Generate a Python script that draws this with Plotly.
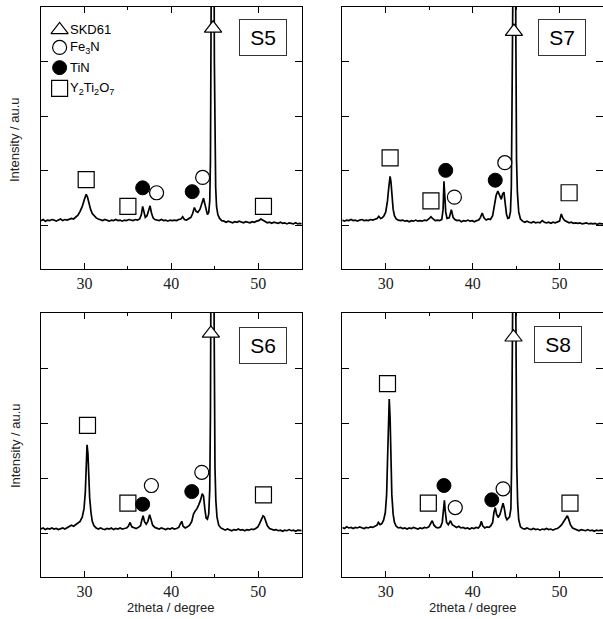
import plotly.graph_objects as go

# ---------------- data (2theta [deg], intensity [a.u.]) ----------------
S5 = [(25.0,.09),(25.25,.11),(25.5,.08),(25.75,.10),(26.0,.09),(26.25,.11),(26.5,.10),(26.75,.08),(27.0,.10),(27.25,.12),
      (27.5,.09),(27.75,.11),(28.0,.10),(28.25,.12),(28.5,.13),(28.75,.12),(29.0,.16),(29.25,.19),(29.5,.26),(29.75,.35),
      (30.0,.48),(30.2,.57),(30.35,.52),(30.5,.42),(30.7,.30),(30.9,.22),(31.1,.18),(31.35,.14),(31.6,.12),(31.85,.11),
      (32.1,.09),(32.35,.11),(32.6,.10),(32.85,.08),(33.1,.10),(33.35,.09),(33.6,.11),(33.85,.09),(34.1,.10),(34.35,.08),
      (34.6,.10),(34.85,.09),(35.1,.11),(35.35,.10),(35.6,.09),(35.85,.11),(36.1,.10),(36.35,.12),(36.55,.20),(36.7,.35),
      (36.85,.22),(37.0,.15),(37.2,.18),(37.4,.28),(37.55,.36),(37.7,.24),(37.9,.14),(38.1,.11),(38.35,.10),(38.6,.09),
      (38.85,.11),(39.1,.09),(39.35,.10),(39.6,.08),(39.85,.10),(40.1,.09),(40.35,.10),(40.6,.09),(40.85,.11),(41.1,.12),
      (41.3,.16),(41.5,.11),(41.75,.10),(42.0,.12),(42.25,.15),(42.45,.22),(42.65,.33),(42.85,.26),(43.05,.24),(43.3,.30),
      (43.5,.42),(43.7,.50),(43.85,.40),(44.0,.26),(44.15,.20),(44.3,.24),(44.42,.45),(44.5,1.2),(44.57,3.0),(44.62,5.5),
      (44.7,9.0),(44.82,9.0),(44.9,5.5),(44.95,3.0),(45.02,1.4),(45.1,.7),(45.2,.35),(45.35,.2),(45.55,.13),(45.8,.09),
      (46.05,.08),(46.3,.06),(46.55,.08),(46.8,.07),(47.05,.05),(47.3,.07),(47.55,.06),(47.8,.08),(48.05,.06),(48.3,.05),
      (48.55,.07),(48.8,.06),(49.05,.05),(49.3,.07),(49.55,.06),(49.8,.08),(50.05,.09),(50.3,.12),(50.55,.10),(50.8,.07),
      (51.05,.05),(51.3,.06),(51.55,.04),(51.8,.06),(52.05,.05),(52.3,.04),(52.55,.06),(52.8,.04),(53.05,.05),(53.3,.03),
      (53.55,.05),(53.8,.04),(54.05,.03),(54.3,.05),(54.55,.03),(54.8,.04),(55.0,.03)]

S7 = [(25.0,.10),(25.25,.08),(25.5,.10),(25.75,.09),(26.0,.11),(26.25,.09),(26.5,.10),(26.75,.08),(27.0,.10),(27.25,.11),
      (27.5,.09),(27.75,.10),(28.0,.09),(28.25,.11),(28.5,.10),(28.75,.12),(29.0,.13),(29.2,.17),(29.4,.13),(29.6,.14),
      (29.8,.18),(30.0,.25),(30.2,.45),(30.35,.70),(30.5,.90),(30.6,.80),(30.7,.55),(30.85,.30),(31.0,.18),(31.2,.12),
      (31.45,.10),(31.7,.09),(31.95,.10),(32.2,.08),(32.45,.09),(32.7,.07),(32.95,.09),(33.2,.08),(33.45,.10),(33.7,.08),
      (33.95,.09),(34.2,.08),(34.45,.10),(34.7,.09),(34.95,.12),(35.2,.16),(35.45,.12),(35.7,.09),(35.95,.10),(36.2,.09),
      (36.45,.11),(36.6,.30),(36.7,.81),(36.8,.60),(36.9,.25),(37.05,.13),(37.3,.14),(37.55,.29),(37.75,.15),(37.95,.11),
      (38.2,.09),(38.45,.10),(38.7,.07),(38.95,.09),(39.2,.08),(39.45,.10),(39.7,.08),(39.95,.09),(40.2,.07),(40.45,.09),
      (40.7,.10),(40.9,.15),(41.1,.23),(41.3,.14),(41.55,.10),(41.8,.12),(42.05,.11),(42.3,.18),(42.5,.35),(42.7,.55),
      (42.9,.63),(43.1,.55),(43.3,.48),(43.45,.58),(43.6,.61),(43.75,.40),(43.9,.20),(44.05,.13),(44.2,.14),(44.35,.25),
      (44.45,.7),(44.52,2.0),(44.6,5.0),(44.7,9.0),(44.85,9.0),(44.92,5.0),(44.98,2.5),(45.05,1.2),(45.15,.6),(45.3,.25),
      (45.5,.12),(45.75,.08),(46.0,.06),(46.25,.08),(46.5,.06),(46.75,.05),(47.0,.07),(47.25,.05),(47.5,.06),(47.75,.05),
      (48.0,.09),(48.25,.06),(48.5,.05),(48.75,.06),(49.0,.04),(49.25,.06),(49.5,.05),(49.75,.06),(50.0,.08),(50.2,.21),
      (50.4,.13),(50.6,.09),(50.85,.07),(51.1,.05),(51.35,.06),(51.6,.04),(51.85,.05),(52.1,.04),(52.35,.05),(52.6,.03),
      (52.85,.04),(53.1,.05),(53.35,.03),(53.6,.04),(53.85,.03),(54.1,.04),(54.35,.02),(54.6,.04),(54.85,.03),(55.0,.03)]

S6 = [(25.0,.08),(25.25,.10),(25.5,.07),(25.75,.09),(26.0,.08),(26.25,.10),(26.5,.08),(26.75,.09),(27.0,.07),(27.25,.09),
      (27.5,.10),(27.75,.08),(28.0,.10),(28.25,.12),(28.5,.15),(28.75,.13),(29.0,.16),(29.25,.18),(29.5,.22),(29.75,.30),
      (29.95,.45),(30.1,.75),(30.2,1.2),(30.3,1.61),(30.4,1.45),(30.5,1.0),(30.6,.65),(30.75,.38),(30.9,.22),(31.1,.14),
      (31.35,.10),(31.6,.08),(31.85,.10),(32.1,.08),(32.35,.07),(32.6,.09),(32.85,.08),(33.1,.10),(33.35,.07),(33.6,.09),
      (33.85,.08),(34.1,.10),(34.35,.08),(34.6,.09),(34.85,.10),(35.05,.13),(35.25,.20),(35.45,.12),(35.7,.10),(35.95,.09),
      (36.2,.11),(36.45,.14),(36.6,.24),(36.75,.32),(36.9,.22),(37.1,.17),(37.3,.22),(37.5,.34),(37.65,.26),(37.85,.15),
      (38.1,.11),(38.35,.10),(38.6,.08),(38.85,.10),(39.1,.09),(39.35,.07),(39.6,.09),(39.85,.08),(40.1,.10),(40.35,.08),
      (40.6,.09),(40.85,.11),(41.05,.18),(41.2,.22),(41.35,.13),(41.6,.10),(41.85,.12),(42.1,.15),(42.35,.22),(42.55,.35),
      (42.75,.41),(42.95,.45),(43.15,.52),(43.35,.60),(43.55,.72),(43.7,.68),(43.85,.45),(44.0,.28),(44.15,.26),(44.3,.35),
      (44.42,.8),(44.5,2.2),(44.56,5.0),(44.65,9.0),(44.8,9.0),(44.88,5.0),(44.94,2.5),(45.02,1.2),(45.12,.6),(45.25,.30),
      (45.45,.15),(45.7,.10),(45.95,.08),(46.2,.06),(46.45,.08),(46.7,.07),(46.95,.05),(47.2,.07),(47.45,.06),(47.7,.08),
      (47.95,.06),(48.2,.07),(48.45,.05),(48.7,.07),(48.95,.06),(49.2,.08),(49.45,.07),(49.7,.09),(49.95,.12),(50.15,.18),
      (50.35,.26),(50.55,.32),(50.7,.30),(50.85,.22),(51.05,.14),(51.3,.09),(51.55,.07),(51.8,.06),(52.05,.07),(52.3,.05),
      (52.55,.06),(52.8,.04),(53.05,.06),(53.3,.05),(53.55,.07),(53.8,.05),(54.05,.06),(54.3,.04),(54.55,.06),(54.8,.05),
      (55.0,.05)]

S8 = [(25.0,.11),(25.25,.09),(25.5,.12),(25.75,.10),(26.0,.11),(26.25,.09),(26.5,.11),(26.75,.10),(27.0,.12),(27.25,.10),
      (27.5,.09),(27.75,.11),(28.0,.10),(28.25,.12),(28.5,.11),(28.75,.13),(29.0,.15),(29.15,.20),(29.35,.16),(29.55,.18),
      (29.75,.24),(29.95,.38),(30.1,.70),(30.2,1.3),(30.3,2.0),(30.4,2.44),(30.5,2.1),(30.6,1.3),(30.7,.70),(30.85,.35),
      (31.0,.20),(31.2,.13),(31.45,.10),(31.7,.11),(31.95,.09),(32.2,.10),(32.45,.08),(32.7,.10),(32.95,.09),(33.2,.11),
      (33.45,.09),(33.7,.08),(33.95,.10),(34.2,.09),(34.45,.11),(34.7,.10),(34.95,.12),(35.15,.17),(35.35,.23),(35.55,.15),
      (35.8,.11),(36.05,.10),(36.3,.12),(36.5,.20),(36.65,.45),(36.75,.60),(36.85,.40),(37.0,.20),(37.2,.16),(37.45,.23),
      (37.65,.16),(37.9,.14),(38.15,.11),(38.4,.13),(38.65,.10),(38.9,.11),(39.15,.09),(39.4,.10),(39.65,.08),(39.9,.10),
      (40.15,.09),(40.4,.11),(40.65,.10),(40.85,.14),(41.0,.22),(41.15,.14),(41.4,.10),(41.65,.12),(41.9,.11),(42.1,.14),
      (42.3,.20),(42.45,.38),(42.6,.47),(42.75,.35),(42.95,.29),(43.15,.35),(43.35,.48),(43.5,.55),(43.65,.45),(43.8,.30),
      (43.95,.25),(44.1,.28),(44.25,.30),(44.4,.45),(44.48,1.2),(44.55,3.0),(44.62,6.0),(44.72,9.0),(44.85,9.0),(44.93,5.0),
      (45.0,2.5),(45.08,1.2),(45.18,.55),(45.3,.25),(45.5,.12),(45.75,.09),(46.0,.08),(46.25,.10),(46.5,.08),(46.75,.07),
      (47.0,.09),(47.25,.07),(47.5,.08),(47.75,.06),(48.0,.08),(48.25,.07),(48.5,.09),(48.75,.07),(49.0,.08),(49.25,.06),
      (49.5,.08),(49.75,.09),(50.0,.12),(50.25,.16),(50.5,.22),(50.7,.28),(50.9,.32),(51.05,.26),(51.25,.16),(51.5,.10),
      (51.75,.08),(52.0,.07),(52.25,.05),(52.5,.07),(52.75,.06),(53.0,.05),(53.25,.07),(53.5,.05),(53.75,.06),(54.0,.04),
      (54.25,.06),(54.5,.05),(54.75,.06),(55.0,.05)]

# phase markers (2theta, height) per sample
S5_Y2Ti2O7 = [(30.2, 0.84), (35.0, 0.35), (50.6, 0.35)]
S5_TiN = [(36.7, 0.69), (42.4, 0.62)]
S5_Fe3N = [(38.3, 0.60), (43.6, 0.88)]
S5_SKD61 = [(44.8, 3.61)]

S7_Y2Ti2O7 = [(30.5, 1.24), (35.2, 0.45), (51.1, 0.60)]
S7_TiN = [(36.9, 1.01), (42.6, 0.83)]
S7_Fe3N = [(37.9, 0.52), (43.7, 1.15)]
S7_SKD61 = [(44.75, 3.55)]

S6_Y2Ti2O7 = [(30.35, 1.96), (35.0, 0.55), (50.6, 0.70)]
S6_TiN = [(36.7, 0.53), (42.35, 0.76)]
S6_Fe3N = [(37.7, 0.87), (43.5, 1.11)]
S6_SKD61 = [(44.55, 3.63)]

S8_Y2Ti2O7 = [(30.2, 2.72), (34.9, 0.55), (51.2, 0.55)]
S8_TiN = [(36.7, 0.87), (42.2, 0.61)]
S8_Fe3N = [(38.0, 0.47), (43.5, 0.81)]
S8_SKD61 = [(44.7, 3.56)]

SAMPLE_NAMES = ["S5", "S7", "S6", "S8"]
PHASE_LABELS = ["SKD61", "Fe<sub>3</sub>N", "TiN", "Y<sub>2</sub>Ti<sub>2</sub>O<sub>7</sub>"]
X_TICKS = [30, 40, 50]

# ---------------- figure ----------------
W, H = 603, 619
ML, MR, MT, MB = 41, 0, 7, 42
PW, PH = W - ML - MR, H - MT - MB

def px(x):
    return (x - ML) / PW

def py(y):
    return (H - MB - y) / PH

fig = go.Figure()

xdom = {"L": [0, px(301.7)], "R": [px(342.3), 1.0]}
ydom = {"T": [py(268.7), 1.0], "B": [0, py(313)]}

panels = [
    ("S5", S5, S5_Y2Ti2O7, S5_TiN, S5_Fe3N, S5_SKD61, "L", "T", "", (263, 37.5)),
    ("S7", S7, S7_Y2Ti2O7, S7_TiN, S7_Fe3N, S7_SKD61, "R", "T", "2", (562, 37.7)),
    ("S6", S6, S6_Y2Ti2O7, S6_TiN, S6_Fe3N, S6_SKD61, "L", "B", "3", (263.3, 345)),
    ("S8", S8, S8_Y2Ti2O7, S8_TiN, S8_Fe3N, S8_SKD61, "R", "B", "4", (558.3, 344)),
]

sq = dict(symbol="square", size=16, color="white", line=dict(color="black", width=1.2))
oc = dict(symbol="circle", size=14, color="white", line=dict(color="black", width=1.2))
fc = dict(symbol="circle", size=14, color="black", line=dict(color="black", width=1))
tr = dict(symbol="triangle-up", size=15, color="white", line=dict(color="black", width=1.2))

tickfont = dict(family="Liberation Serif", size=16, color="#222")
annotations = []

for name, spec, y2t, tin, fe3n, skd, hx, vy, suf, boxc in panels:
    xa, ya = "x" + suf, "y" + suf
    fig.add_trace(go.Scatter(x=[p[0] for p in spec], y=[p[1] for p in spec], mode="lines",
                             line=dict(color="black", width=1.7), xaxis=xa, yaxis=ya,
                             showlegend=False, hoverinfo="skip"))
    for pts, mk in ((y2t, sq), (tin, fc), (fe3n, oc), (skd, tr)):
        fig.add_trace(go.Scatter(x=[p[0] for p in pts], y=[p[1] for p in pts], mode="markers",
                                 marker=mk, xaxis=xa, yaxis=ya, showlegend=False, cliponaxis=False))
    xkey = "xaxis" + suf
    ykey = "yaxis" + suf
    fig.layout[xkey] = dict(domain=xdom[hx], range=[25, 55], anchor=ya, tickmode="array",
                            tickvals=X_TICKS, ticks="inside", ticklen=6, tickwidth=1.2,
                            tickcolor="black", showline=True, linecolor="black", linewidth=1.3,
                            mirror="ticks", showgrid=False, zeroline=False, tickfont=tickfont,
                            minor=dict(tickmode="array", tickvals=[35, 45], ticks="inside",
                                       ticklen=3, tickwidth=1.2, tickcolor="black", showgrid=False))
    fig.layout[ykey] = dict(domain=ydom[vy], range=[-0.79, 4.0], anchor=xa, tickmode="linear",
                            tick0=0, dtick=1, ticks="inside", ticklen=7, tickwidth=1.2,
                            tickcolor="black", showline=True, linecolor="black", linewidth=1.3,
                            mirror="ticks", showgrid=False, zeroline=False, showticklabels=False)
    annotations.append(dict(text=name, x=px(boxc[0]), y=py(boxc[1]), xref="paper", yref="paper",
                            xanchor="center", yanchor="middle", showarrow=False,
                            font=dict(family="Liberation Sans", size=21, color="black"),
                            width=46, height=35, borderwidth=1, bordercolor="#333",
                            borderpad=0, bgcolor="white"))

# legend inside first panel
leg_x = 27.14
leg_y = [3.58, 3.26, 2.89, 2.51]
for mk, yy, lab in zip((tr, oc, fc, sq), leg_y, PHASE_LABELS):
    fig.add_trace(go.Scatter(x=[leg_x], y=[yy], mode="markers", marker=mk, xaxis="x", yaxis="y",
                             showlegend=False, hoverinfo="skip"))
    annotations.append(dict(text=lab, x=28.15, y=yy, xref="x", yref="y", xanchor="left",
                            yanchor="middle", showarrow=False,
                            font=dict(family="Liberation Sans", size=13, color="black")))

# axis titles
for yc in (140, 446):
    annotations.append(dict(text="Intensity / au.u", x=px(15), y=py(yc), xref="paper", yref="paper",
                            textangle=-90, xanchor="center", yanchor="middle", showarrow=False,
                            font=dict(family="Liberation Sans", size=13, color="#222")))
for xc in (170, 472):
    annotations.append(dict(text="2theta / degree", x=px(xc), y=py(607), xref="paper", yref="paper",
                            xanchor="center", yanchor="middle", showarrow=False,
                            font=dict(family="Liberation Sans", size=13, color="#222")))

fig.update_layout(width=W, height=H, margin=dict(l=ML, r=MR, t=MT, b=MB),
                  paper_bgcolor="white", plot_bgcolor="white", showlegend=False,
                  annotations=annotations)

fig.write_html("out.html")
